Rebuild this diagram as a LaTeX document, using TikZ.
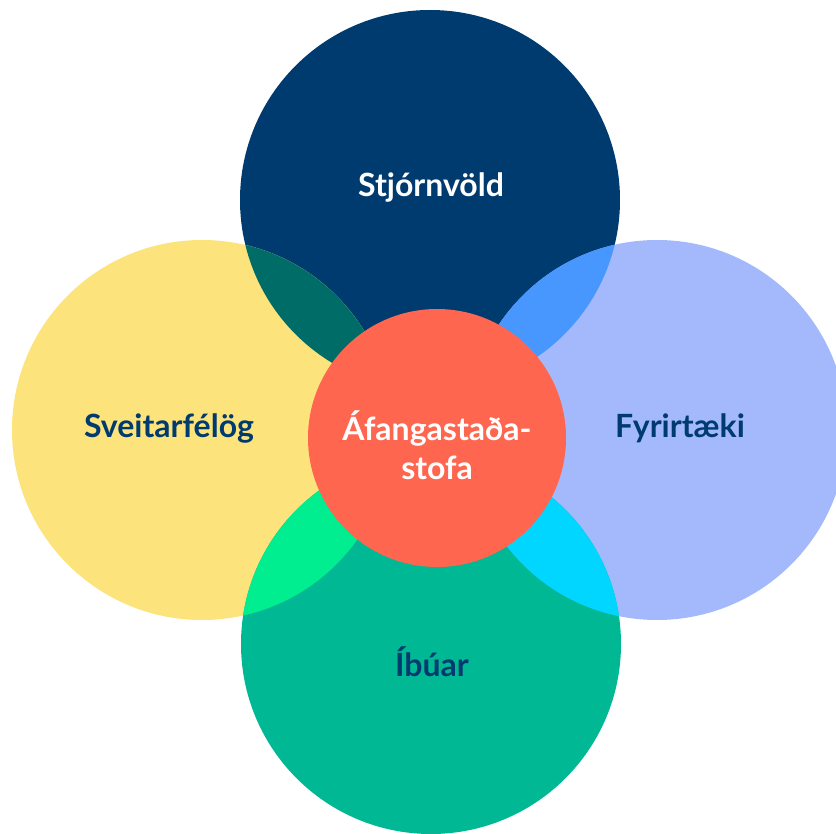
\documentclass[tikz,border=0pt]{standalone}
\usepackage{fontspec}
\setmainfont{Lato}
\definecolor{cnavy}{HTML}{003B6F}
\definecolor{cyellow}{HTML}{FDE37B}
\definecolor{clblue}{HTML}{A4B9FC}
\definecolor{cgreen}{HTML}{00B894}
\definecolor{corange}{HTML}{FF6650}
\definecolor{cteal}{HTML}{006C68}
\definecolor{cblue}{HTML}{4897FF}
\definecolor{cbgreen}{HTML}{00EE8F}
\definecolor{ccyan}{HTML}{00D6FF}
\tikzset{
  lbl/.style={font=\bfseries\fontsize{32}{38}\selectfont, anchor=base, inner sep=0pt},
}
\begin{document}
\begin{tikzpicture}[x=1pt,y=-1pt]
\useasboundingbox (0,0) rectangle (836,834);
\def\R{190}
\coordinate (T) at (430,200);
\coordinate (L) at (202,430);
\coordinate (Rt) at (657,430);
\coordinate (B) at (431,644);
\coordinate (C) at (437,438);
\fill[cnavy] (T) circle (\R);
\fill[cyellow] (L) circle (\R);
\fill[clblue] (Rt) circle (\R);
\fill[cgreen] (B) circle (\R);
\begin{scope}\clip (T) circle (\R); \fill[cteal] (L) circle (\R); \end{scope}
\begin{scope}\clip (T) circle (\R); \fill[cblue] (Rt) circle (\R); \end{scope}
\begin{scope}\clip (B) circle (\R); \fill[cbgreen] (L) circle (\R); \end{scope}
\begin{scope}\clip (B) circle (\R); \fill[ccyan] (Rt) circle (\R); \end{scope}
\fill[corange] (C) circle (129);
\node[lbl, text=white] (st) at (431,197) {Stjórnvöld};
\node[lbl, text=cnavy] (sv) at (169,438) {Sveitarfélög};
\node[lbl, text=cnavy] (fy) at (680,438) {Fyrirtæki};
\node[lbl, text=cnavy] (ib) at (432,676) {Íbúar};
\node[lbl, text=white] (af1) at (437,440) {Áfangastaða-};
\node[lbl, text=white] (af2) at (437,479) {stofa};
\end{tikzpicture}
\end{document}
